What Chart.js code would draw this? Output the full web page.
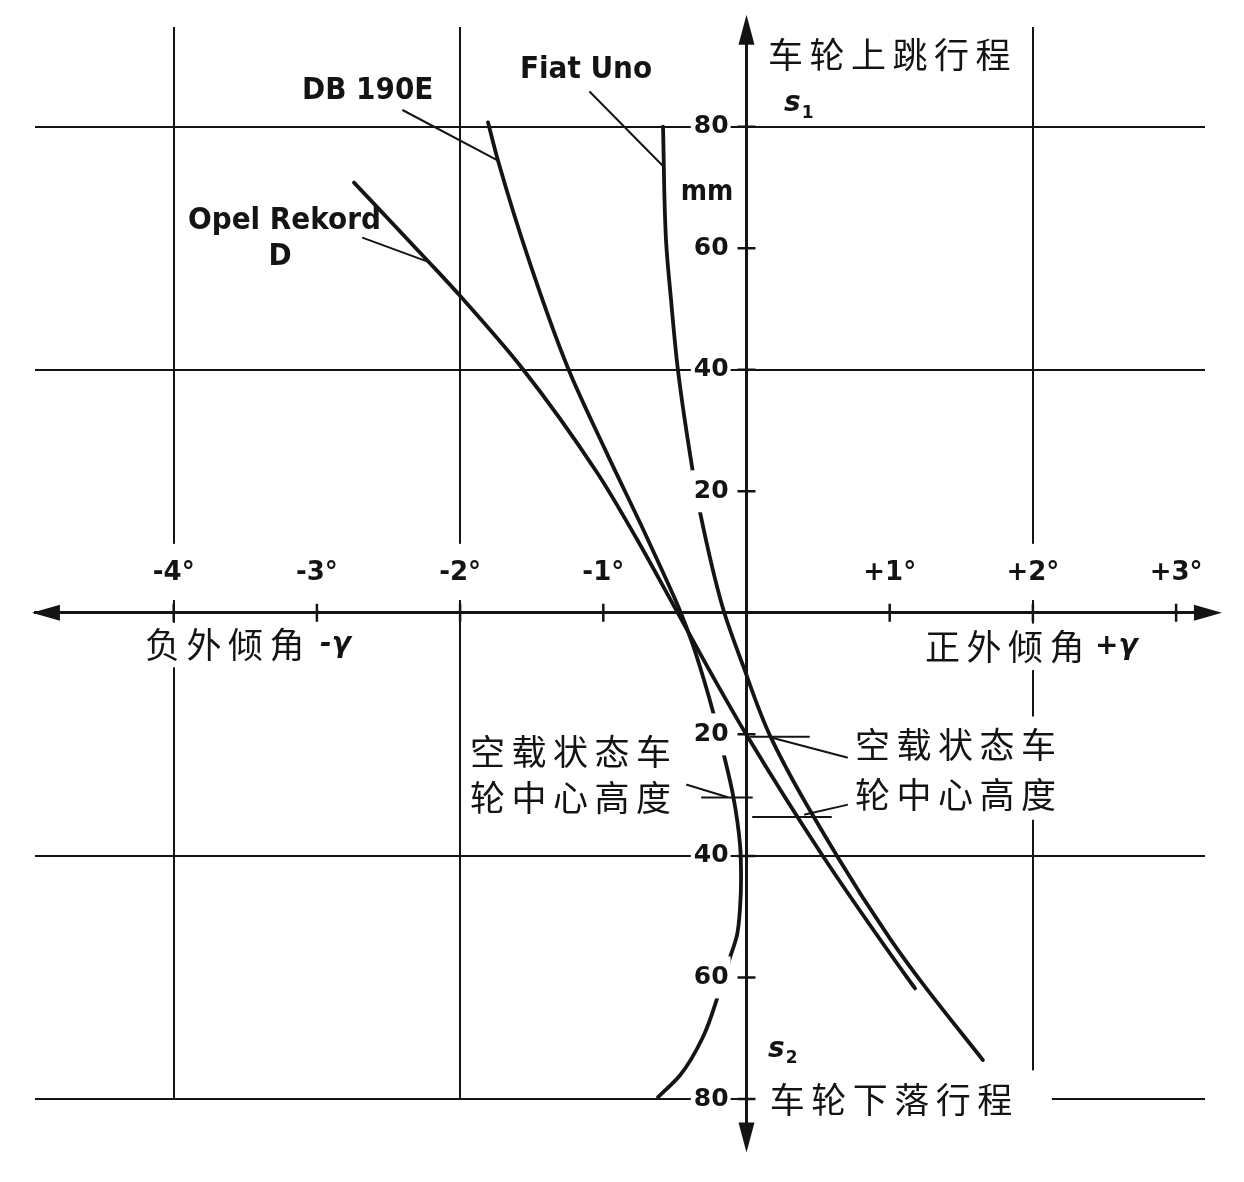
<!DOCTYPE html>
<html>
<head>
<meta charset="utf-8">
<script src="https://cdn.jsdelivr.net/npm/chart.js@4.4.1/dist/chart.umd.min.js"></script>
<style>
html,body{margin:0;padding:0;background:#fff;}
#wrap{width:1244px;height:1182px;position:relative;}
</style>
</head>
<body>
<div id="wrap"><canvas id="c"></canvas></div>
<script>
// ---------------- data (camber angle in degrees, wheel travel in mm; jounce s1 > 0, rebound s2 < 0) ----------------
const seriesNames = ['Fiat Uno', 'DB 190E', 'Opel Rekord D'];

const fiatCamber = [-0.583, -0.562, -0.527, -0.479, -0.374, -0.325, -0.164, -0.024, 0.164, 0.632, 1.002, 1.233, 1.651];
const fiatTravel = [80.0, 61.3, 51.5, 40.0, 23.1, 16.6, 0.7, -8.7, -20.2, -40.0, -53.6, -61.1, -73.6];

const dbCamber = [-1.805, -1.735, -1.519, -1.247, -0.988, -0.723, -0.594, -0.471, -0.377, -0.300, -0.230, -0.161, -0.094, -0.045, -0.038, -0.045, -0.066, -0.115, -0.192, -0.304, -0.464, -0.618];
const dbTravel = [80.7, 74.4, 58.0, 40.3, 26.9, 13.8, 7.2, 0.7, -5.1, -10.8, -16.6, -23.1, -30.0, -38.2, -43.6, -48.5, -53.0, -56.7, -62.5, -69.8, -76.1, -79.7];

const opelCamber = [-2.741, -2.217, -1.994, -1.575, -1.044, -0.765, -0.506, -0.227, 0.003, 0.527, 1.121, 1.177];
const opelTravel = [70.8, 57.7, 52.0, 40.5, 23.1, 12.1, 1.1, -10.8, -20.2, -39.8, -60.0, -61.8];

const xTickValues = [-4, -3, -2, -1, 0, 1, 2, 3];
const xTickLabels = ['-4°', '-3°', '-2°', '-1°', '', '+1°', '+2°', '+3°'];
const yTickValues = [-80, -60, -40, -20, 20, 40, 60, 80];
const yTickLabels = ['80', '60', '40', '20', '20', '40', '60', '80'];
const xGridValues = [-4, -2, 0, 2];
const yGridValues = [-80, -40, 40, 80];

// ---------------- texts ----------------
const axisTexts = {
  up: '车轮上跳行程', down: '车轮下落行程',
  neg: '负外倾角', negSym: '-γ', pos: '正外倾角', posSym: '+γ',
  unit: 'mm', s: 's', sub1: '1', sub2: '2',
  design1: '空载状态车', design2: '轮中心高度'
};

// ---------------- styles / layout ----------------
const INK = '#141414';
const fonts = {
  cjk: {font: '400 35px "Noto Sans CJK SC"', size: 35, ls: '6.5px'},
  lbl: {font: 'bold 31px "DejaVu Sans Condensed", "DejaVu Sans"', size: 31, ls: '0px'},
  mm:  {font: 'bold 28px "DejaVu Sans Condensed", "DejaVu Sans"', size: 28, ls: '0px'},
  sym: {font: 'italic bold 28px "DejaVu Sans"', size: 28, ls: '0px'},
  s:   {font: 'italic bold 28px "DejaVu Sans"', size: 28, ls: '0px'},
  sub: {font: 'bold 17px "DejaVu Sans"', size: 17, ls: '0px'}
};

const notes = [
  {t: axisTexts.up, x: 0.150, y: 91.9, f: 'cjk'},
  {t: axisTexts.s, sub: axisTexts.sub1, x: 0.262, y: 83.7, f: 's'},
  {t: axisTexts.unit, x: -0.276, y: 69.1, f: 'mm', align: 'center', noBox: true},
  {t: axisTexts.neg, x: -4.200, y: -5.3, f: 'cjk'},
  {t: axisTexts.negSym, x: -2.978, y: -5.3, f: 'sym'},
  {t: axisTexts.pos, x: 1.247, y: -5.6, f: 'cjk', pad: {t: 4, b: 4}},
  {t: axisTexts.posSym, x: 2.434, y: -5.6, f: 'sym'},
  {t: axisTexts.design1, x: -1.931, y: -22.9, f: 'cjk'},
  {t: axisTexts.design2, x: -1.931, y: -30.4, f: 'cjk'},
  {t: axisTexts.design1, x: 0.758, y: -21.7, f: 'cjk', pad: {t: 9, b: 6}},
  {t: axisTexts.design2, x: 0.758, y: -29.9, f: 'cjk', pad: {t: 6, b: 6}},
  {t: axisTexts.s, sub: axisTexts.sub2, x: 0.150, y: -71.9, f: 's'},
  {t: axisTexts.down, x: 0.163, y: -80.1, f: 'cjk', pad: {l: 16, r: 33, t: 10, b: 6}},
  {t: seriesNames[1], x: -3.104, y: 85.9, f: 'lbl', noBox: true},
  {t: seriesNames[0], x: -1.582, y: 89.3, f: 'lbl', noBox: true},
  {t: seriesNames[2].replace(/ D$/, ''), x: -3.900, y: 64.5, f: 'lbl', noBox: true},
  {t: 'D', x: -3.257, y: 58.6, f: 'lbl', align: 'center', noBox: true}
];

// leader lines and design-height markers [x1, y1, x2, y2] in data units
const leaders = [
  [-2.399, 82.7, -1.735, 74.4],
  [-1.093, 85.7, -0.590, 73.7],
  [-2.678, 61.7, -2.217, 57.7],
  [-0.416, -28.3, -0.136, -30.3],
  [-0.311, -30.4, 0.038, -30.4],
  [0.702, -23.8, 0.185, -20.6],
  [0.031, -20.4, 0.436, -20.4],
  [0.702, -31.6, 0.408, -33.2],
  [0.045, -33.6, 0.590, -33.6]
];

const axisExtent = {top: 98.4, bottom: -88.8, left: -4.99, right: 3.32};

const annotPlugin = {
  id: 'annot',
  afterDraw(chart) {
    const ctx = chart.ctx;
    const sx = chart.scales.x, sy = chart.scales.y;
    const X = v => sx.getPixelForValue(v), Y = v => sy.getPixelForValue(v);
    const x0 = X(0), y0 = Y(0);
    ctx.save();
    notes.forEach(n => {
      const f = fonts[n.f];
      ctx.font = f.font;
      ctx.letterSpacing = f.ls;
      const w = ctx.measureText(n.t).width;
      const px = X(n.x), py = Y(n.y);
      const left = n.align === 'center' ? px - w / 2 : px;
      const pad = Object.assign({l: 3, r: 3, t: 3, b: 3}, n.pad || {});
      let ww = w;
      if (n.sub) { ctx.font = fonts.sub.font; ww += ctx.measureText(n.sub).width + 2; ctx.font = f.font; }
      if (!n.noBox) {
        ctx.fillStyle = '#fff';
        ctx.fillRect(left - pad.l, py - f.size * 0.55 - pad.t, ww + pad.l + pad.r, f.size * 1.1 + pad.t + pad.b);
      }
      ctx.fillStyle = INK;
      ctx.textAlign = 'left';
      ctx.textBaseline = 'middle';
      ctx.fillText(n.t, left, py);
      if (n.sub) {
        ctx.font = fonts.sub.font;
        ctx.letterSpacing = '0px';
        ctx.fillText(n.sub, left + w + 1, py + 9);
      }
    });
    ctx.letterSpacing = '0px';
    ctx.strokeStyle = INK;
    ctx.lineWidth = 2;
    ctx.lineCap = 'round';
    leaders.forEach(l => {
      ctx.beginPath();
      ctx.moveTo(X(l[0]), Y(l[1]));
      ctx.lineTo(X(l[2]), Y(l[3]));
      ctx.stroke();
    });
    ctx.lineWidth = 3;
    ctx.lineCap = 'butt';
    ctx.beginPath();
    ctx.moveTo(x0, Y(axisExtent.top) + 20); ctx.lineTo(x0, chart.chartArea.top + 1);
    ctx.moveTo(x0, chart.chartArea.bottom - 1); ctx.lineTo(x0, Y(axisExtent.bottom) - 20);
    ctx.moveTo(chart.chartArea.right - 1, y0); ctx.lineTo(X(axisExtent.right) - 20, y0);
    ctx.stroke();
    ctx.lineWidth = 2.5;
    ctx.beginPath();
    xTickValues.forEach(v => { if (v !== 0) { ctx.moveTo(X(v), y0 - 9); ctx.lineTo(X(v), y0 + 9); } });
    yTickValues.forEach(v => { ctx.moveTo(x0 - 9, Y(v)); ctx.lineTo(x0 + 9, Y(v)); });
    ctx.stroke();
    ctx.fillStyle = INK;
    const tri = (a, b, c) => { ctx.beginPath(); ctx.moveTo(a[0], a[1]); ctx.lineTo(b[0], b[1]); ctx.lineTo(c[0], c[1]); ctx.closePath(); ctx.fill(); };
    const yt = Y(axisExtent.top), yb = Y(axisExtent.bottom), xl = X(axisExtent.left), xr = X(axisExtent.right);
    tri([x0, yt], [x0 - 8, yt + 30], [x0 + 8, yt + 30]);
    tri([x0, yb], [x0 - 8, yb - 30], [x0 + 8, yb - 30]);
    tri([xl, y0], [xl + 28, y0 - 8], [xl + 28, y0 + 8]);
    tri([xr, y0], [xr - 28, y0 - 8], [xr - 28, y0 + 8]);
    ctx.restore();
  }
};

const mk = (xs, ys) => xs.map((x, i) => ({x: x, y: ys[i]}));
const lineStyle = {
  borderColor: INK, backgroundColor: INK, borderWidth: 3.8, pointRadius: 0, fill: false,
  indexAxis: 'y', cubicInterpolationMode: 'monotone', clip: 6, borderCapStyle: 'round'
};

const chart = new Chart(document.getElementById('c'), {
  type: 'line',
  data: {
    datasets: [
      Object.assign({label: seriesNames[0], data: mk(fiatCamber, fiatTravel)}, lineStyle),
      Object.assign({label: seriesNames[1], data: mk(dbCamber, dbTravel)}, lineStyle),
      Object.assign({label: seriesNames[2], data: mk(opelCamber, opelTravel)}, lineStyle)
    ]
  },
  options: {
    responsive: true,
    maintainAspectRatio: false,
    animation: false,
    events: [],
    layout: {padding: {left: 35, right: 39, top: 27, bottom: 83}},
    plugins: {legend: {display: false}, tooltip: {enabled: false}},
    scales: {
      x: {
        type: 'linear', min: -4.9686, max: 3.2018, position: {y: 0},
        afterBuildTicks: s => { s.ticks = xTickValues.map(v => ({value: v})); },
        grid: {
          color: c => (c.tick && xGridValues.includes(c.tick.value)) ? INK : 'rgba(0,0,0,0)',
          lineWidth: c => (c.tick && c.tick.value === 0) ? 3 : 2,
          drawTicks: false
        },
        border: {display: true, color: INK, width: 3},
        ticks: {
          callback: (v, i) => xTickLabels[i], autoSkip: false, maxRotation: 0, minRotation: 0,
          padding: -55, color: INK, font: {family: 'DejaVu Sans', weight: 'bold', size: 26}, z: 1,
          showLabelBackdrop: c => !!(c.tick && c.tick.value !== 0), backdropColor: '#fff',
          backdropPadding: {top: 14, bottom: 11, left: 4, right: 4}
        }
      },
      y: {
        type: 'linear', min: -80, max: 96.4, position: {x: -0.125},
        afterBuildTicks: s => { s.ticks = yTickValues.map(v => ({value: v})); },
        grid: {
          color: c => (c.tick && yGridValues.includes(c.tick.value)) ? INK : 'rgba(0,0,0,0)',
          lineWidth: 2, drawTicks: false
        },
        border: {display: false},
        ticks: {
          callback: (v, i) => yTickLabels[i], autoSkip: false, padding: 0, color: INK,
          font: {family: 'DejaVu Sans', weight: 'bold', size: 25}, z: 1,
          showLabelBackdrop: true, backdropColor: '#fff',
          backdropPadding: {top: 6, bottom: 6, left: 3, right: 2}
        }
      }
    }
  },
  plugins: [annotPlugin]
});
</script>
</body>
</html>
